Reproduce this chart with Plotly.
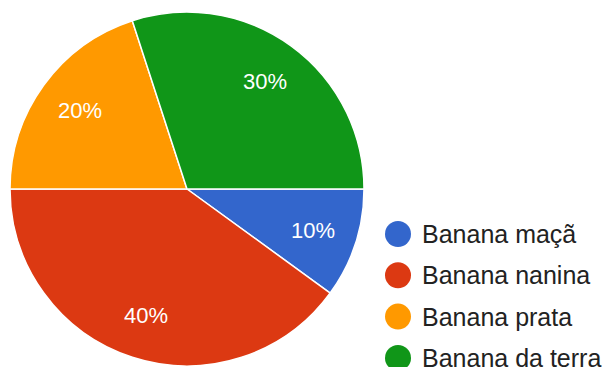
import math
import plotly.graph_objects as go

# Survey answers: favourite banana variety
labels = ["Banana maçã", "Banana nanina", "Banana prata", "Banana da terra"]
values = [10, 40, 20, 30]
colors = ["#3366CC", "#DC3912", "#FF9900", "#109618"]

W, H = 607, 367
cx, cy, R = 187, 189, 177          # pie centre and radius in pixels
FONT = "Liberation Sans, Arial, sans-serif"

fig = go.Figure()

fig.add_trace(go.Pie(
    labels=labels,
    values=values,
    sort=False,
    direction="clockwise",
    rotation=90,
    marker=dict(colors=colors, line=dict(color="white", width=1.5)),
    textinfo="none",
    showlegend=False,
    domain=dict(x=[(cx - R) / W, (cx + R) / W],
                y=[1 - (cy + R) / H, 1 - (cy - R) / H]),
))

# Percentage labels placed along each slice's mid angle
total = sum(values)
annotations = []
cum = 0.0
for v in values:
    frac = v / total
    mid = math.radians((cum + frac / 2) * 360)
    cum += frac
    r = 0.75 * R
    px = cx + r * math.cos(mid)
    py = cy + r * math.sin(mid)
    annotations.append(dict(
        x=px, y=py, xref="x", yref="y",
        text=f"{round(frac * 100)}%", showarrow=False,
        font=dict(family=FONT, size=22, color="white"),
        xanchor="center", yanchor="middle",
    ))

# Legend with round swatches
leg_x, leg_y0, leg_dy = 398, 234, 41.3
leg_ys = [leg_y0 + i * leg_dy for i in range(len(labels))]
fig.add_trace(go.Scatter(
    x=[leg_x] * len(labels), y=leg_ys, mode="markers",
    marker=dict(size=26, color=colors, line=dict(width=0)),
    showlegend=False, hoverinfo="skip",
))
for lab, y in zip(labels, leg_ys):
    annotations.append(dict(
        x=leg_x + 22, y=y, xref="x", yref="y",
        text=lab, showarrow=False,
        font=dict(family=FONT, size=25, color="#222222"),
        xanchor="left", yanchor="middle",
    ))

fig.update_layout(
    width=W, height=H,
    margin=dict(l=0, r=0, t=0, b=0),
    paper_bgcolor="white", plot_bgcolor="rgba(0,0,0,0)",
    xaxis=dict(range=[0, W], visible=False, fixedrange=True),
    yaxis=dict(range=[H, 0], visible=False, fixedrange=True),
    annotations=annotations,
    showlegend=False,
)

fig.write_html("out.html")
